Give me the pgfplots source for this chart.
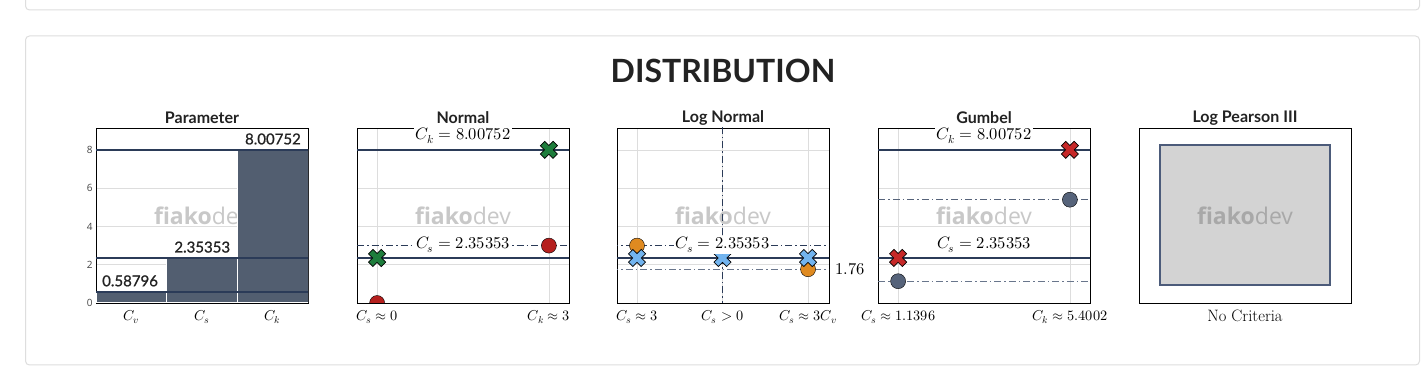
\documentclass[border=0pt]{standalone}
\usepackage{pgfplots}
\pgfplotsset{compat=1.18}
\usepackage{fontspec}
\usepackage{unicode-math}
\setmathfont{Latin Modern Math}
\newfontfamily\lato{Lato}
\newfontfamily\latomed[FakeBold=1]{Lato}
\newfontfamily\osans{Open Sans}

\definecolor{navy}{RGB}{43,59,88}
\definecolor{barcol}{RGB}{82,94,112}
\definecolor{gridc}{RGB}{221,221,221}
\definecolor{xgreen}{RGB}{30,125,60}
\definecolor{cred}{RGB}{181,32,30}
\definecolor{corange}{RGB}{223,138,32}
\definecolor{xblue}{RGB}{114,180,239}
\definecolor{xred}{RGB}{198,40,40}
\definecolor{cgray}{RGB}{86,99,122}
\definecolor{ddgray}{RGB}{105,118,140}
\definecolor{wm}{RGB}{200,200,200}
\definecolor{wmdark}{RGB}{168,168,168}
\definecolor{cardb}{RGB}{222,222,222}
\definecolor{lpgray}{RGB}{211,211,211}
\definecolor{lpnavy}{RGB}{76,91,122}
\definecolor{titlec}{RGB}{34,34,34}
\definecolor{tickc}{RGB}{68,68,68}

\pgfdeclareplotmark{bigx}{%
  \pgftransformrotate{45}%
  \pgfpathmoveto{\pgfqpoint{3.1pt}{9pt}}%
  \pgfpathlineto{\pgfqpoint{3.1pt}{3.1pt}}%
  \pgfpathlineto{\pgfqpoint{9pt}{3.1pt}}%
  \pgfpathlineto{\pgfqpoint{9pt}{-3.1pt}}%
  \pgfpathlineto{\pgfqpoint{3.1pt}{-3.1pt}}%
  \pgfpathlineto{\pgfqpoint{3.1pt}{-9pt}}%
  \pgfpathlineto{\pgfqpoint{-3.1pt}{-9pt}}%
  \pgfpathlineto{\pgfqpoint{-3.1pt}{-3.1pt}}%
  \pgfpathlineto{\pgfqpoint{-9pt}{-3.1pt}}%
  \pgfpathlineto{\pgfqpoint{-9pt}{3.1pt}}%
  \pgfpathlineto{\pgfqpoint{-3.1pt}{3.1pt}}%
  \pgfpathlineto{\pgfqpoint{-3.1pt}{9pt}}%
  \pgfpathclose
  \pgfusepathqfillstroke
}

\tikzset{
  dd/.style={dash pattern=on 7pt off 3pt on 1.5pt off 3pt, line width=0.9pt},
  lbl/.style={fill=white, inner sep=1.5pt, font=\fontsize{16.5}{18}\selectfont},
  wmark/.style={font=\fontsize{23}{23}\selectfont\osans, text=wm},
  stitle/.style={text=titlec, font=\lato\bfseries\fontsize{16}{16}\selectfont},
  vlab/.style={font=\latomed\fontsize{15}{15}\selectfont, text=titlec, inner sep=0pt},
}

\pgfplotsset{
  base/.style={
    scale only axis, width=212pt, height=175pt, anchor=south west,
    ymin=0, ymax=9.15,
    axis line style={black, line width=0.8pt},
    major tick length=0pt,
    xticklabel style={font=\fontsize{14.3}{16}\selectfont, yshift=-3.5pt},
  },
  crit/.style={
    base,
    grid=major, grid style={gridc, line width=0.8pt},
    ytick={0,2,4,6,8}, yticklabels={},
    clip marker paths=true,
  },
}

\begin{document}
\begin{tikzpicture}[x=1pt,y=1pt]
\useasboundingbox (0,0) rectangle (1424,379);
% cards
\draw[cardb, line width=1pt, rounded corners=4pt, fill=white] (25.5,420) rectangle (1419.5,369);
\draw[cardb, line width=1pt, rounded corners=4pt, fill=white] (25.5,343) rectangle (1419.5,14);
\node[text=titlec, font=\lato\bfseries\fontsize{32}{32}\selectfont] at (723,308) {DISTRIBUTION};

% subplot titles
\node[stitle] at (202,261) {Parameter};
\node[stitle] at (463,261) {Normal};
\node[stitle] at (723,261) {Log Normal};
\node[stitle] at (984,261) {Gumbel};
\node[stitle] at (1245,261) {Log Pearson III};

% ---------------- Parameter
\begin{axis}[base, at={(96pt,76pt)},
  xmin=-0.5, xmax=2.5,
  xtick={0,1,2}, xticklabels={$C_v$,$C_s$,$C_k$},
  ytick={0,2,4,6,8},
  ymajorgrids, grid style={gridc, line width=0.8pt},
  /pgf/number format/assume math mode=true,
  yticklabel style={font=\osans\fontsize{10}{10}\selectfont, text=tickc, xshift=0pt},
]
\node[wmark] at (rel axis cs:0.5,0.5) {\textbf{fiako}dev};
\addplot[ybar, bar width=1, fill=barcol, draw=white, line width=1pt] coordinates {(0,0.58796) (1,2.35353) (2,8.00752)};
\addplot[navy, line width=2.2pt] coordinates {(-0.6,0.58796) (2.6,0.58796)};
\addplot[navy, line width=2.2pt] coordinates {(-0.6,2.35353) (2.6,2.35353)};
\addplot[navy, line width=2.2pt] coordinates {(-0.6,8.00752) (2.6,8.00752)};
\node[vlab, anchor=base west] at ([xshift=6pt,yshift=5.5pt]axis cs:-0.5,0.58796) {0.58796};
\node[vlab, anchor=base east] at ([xshift=-7pt,yshift=5.5pt]axis cs:1.5,2.35353) {2.35353};
\node[vlab, anchor=base east] at ([xshift=-7pt,yshift=5.5pt]axis cs:2.5,8.00752) {8.00752};
\end{axis}

% ---------------- Normal
\begin{axis}[crit, at={(357pt,76pt)},
  xmin=-0.117, xmax=1.117,
  xtick={0,1}, xticklabels={$C_s\approx0$,$C_k\approx3$},
]
\node[wmark] at (rel axis cs:0.5,0.5) {\textbf{fiako}dev};
\addplot[navy, line width=2.2pt] coordinates {(-0.2,8.00752) (1.2,8.00752)};
\addplot[navy, line width=2.2pt] coordinates {(-0.2,2.35353) (1.2,2.35353)};
\addplot[navy, dd] coordinates {(-0.2,3) (1.2,3)};
\addplot[ddgray, dd] coordinates {(-0.2,0) (1.2,0)};
\addplot[only marks, mark=*, mark size=7.5pt, mark options={draw=none, fill=cred}] coordinates {(0,0) (1,3)};
\addplot[only marks, mark=bigx, mark options={fill=xgreen, draw=black, line width=0.7pt}] coordinates {(0,2.35353) (1,8.00752)};
\node[lbl] at (axis cs:0.5,8.73) {$C_k = 8.00752$};
\node[lbl] at (axis cs:0.5,3.03) {$C_s = 2.35353$};
\end{axis}

% ---------------- Log Normal
\begin{axis}[crit, at={(617pt,76pt)},
  xmin=-0.234, xmax=2.245,
  xtick={0,1,2}, xticklabels={$C_s\approx3$,$C_s>0$,$C_s\approx3C_v$},
]
\node[wmark] at (rel axis cs:0.5,0.5) {\textbf{fiako}dev};
\addplot[navy, line width=2.2pt] coordinates {(-0.3,2.35353) (2.3,2.35353)};
\addplot[navy, dd] coordinates {(-0.3,3) (2.3,3)};
\addplot[ddgray, dd] coordinates {(-0.3,1.76388) (2.3,1.76388)};
\addplot[navy, dd] coordinates {(1,-1) (1,10)};
\addplot[only marks, mark=*, mark size=7.5pt, mark options={draw=none, fill=corange}] coordinates {(0,3) (2,1.76388)};
\addplot[only marks, mark=bigx, mark options={fill=xblue, draw=black, line width=0.7pt}] coordinates {(0,2.35353) (1,2.35353) (2,2.35353)};
\node[lbl] at (axis cs:1,3.03) {$C_s = 2.35353$};
\coordinate (ln176) at (axis cs:2.245,1.76388);
\end{axis}
\node[anchor=west, font=\fontsize{16.5}{18}\selectfont, inner sep=0pt] at ([xshift=6pt]ln176) {$1.76$};

% ---------------- Gumbel
\begin{axis}[crit, at={(878pt,76pt)},
  xmin=-0.117, xmax=1.117,
  xtick={0,1}, xticklabels={$C_s\approx1.1396$,$C_k\approx5.4002$},
]
\node[wmark] at (rel axis cs:0.5,0.5) {\textbf{fiako}dev};
\addplot[navy, line width=2.2pt] coordinates {(-0.2,8.00752) (1.2,8.00752)};
\addplot[navy, line width=2.2pt] coordinates {(-0.2,2.35353) (1.2,2.35353)};
\addplot[cgray, dd] coordinates {(-0.2,5.4002) (1.2,5.4002)};
\addplot[ddgray, dd] coordinates {(-0.2,1.1396) (1.2,1.1396)};
\addplot[only marks, mark=*, mark size=7.5pt, mark options={draw=none, fill=cgray}] coordinates {(0,1.1396) (1,5.4002)};
\addplot[only marks, mark=bigx, mark options={fill=xred, draw=black, line width=0.7pt}] coordinates {(0,2.35353) (1,8.00752)};
\node[lbl] at (axis cs:0.5,8.73) {$C_k = 8.00752$};
\node[lbl] at (axis cs:0.5,3.03) {$C_s = 2.35353$};
\end{axis}

% ---------------- Log Pearson III
\begin{axis}[base, at={(1139pt,76pt)},
  xmin=0, xmax=1, ymin=0, ymax=1,
  xtick=\empty, ytick=\empty,
]
\addplot[fill=lpgray, draw=lpnavy, line width=2pt] coordinates {(0.1,0.1) (0.9,0.1) (0.9,0.9) (0.1,0.9)} -- cycle;
\node[wmark, text=wmdark] at (rel axis cs:0.5,0.5) {\textbf{fiako}dev};
\end{axis}
\node[font=\fontsize{16.5}{18}\selectfont] at (1245,63) {No Criteria};
\end{tikzpicture}
\end{document}
